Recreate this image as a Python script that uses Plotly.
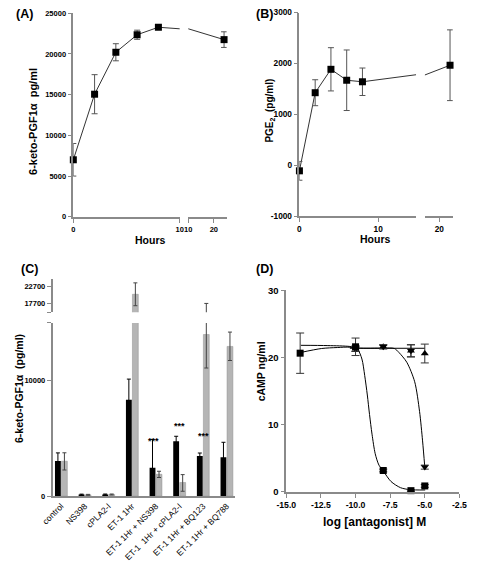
import plotly.graph_objects as go
import numpy as np

# ---------------- DATA ----------------
# Panel A: 6-keto-PGF1a time course
a_hours = [0, 2, 4, 6, 8, 24]
a_val = [7000, 15050, 20200, 22350, 23270, 21750]
a_err = [2000, 2400, 1050, 560, 250, 960]
a_yticks = [0, 5000, 10000, 15000, 20000, 25000]

# Panel B: PGE2 time course
b_hours = [0, 2, 4, 6, 8, 24]
b_val = [-110, 1425, 1885, 1670, 1640, 1965]
b_err = [185, 255, 425, 595, 270, 695]
b_yticks = [-1000, 0, 1000, 2000, 3000]

# Panel C: bars
c_cats = ["control", "NS398", "cPLA2-I", "ET-1 1Hr", "ET-1 1Hr + NS398",
          "ET-1  1Hr + cPLA2-I", "ET-1 1Hr + BQ123", "ET-1 1Hr + BQ788"]
c_black = [3050, 140, 150, 8350, 2460, 4760, 3480, 3370]
c_black_err = [700, 40, 40, 1790, 2460, 430, 260, 1300]
c_gray = [3030, 120, 150, 20440, 1900, 1190, 14000, 12970]
c_gray_err_plus = [730, 40, 40, 3300, 260, 680, 3800, 1240]
c_gray_err_minus = [760, 40, 40, 3300, 280, 760, 2900, 1220]
c_star_cats = ["ET-1 1Hr + NS398", "ET-1  1Hr + cPLA2-I", "ET-1 1Hr + BQ123"]
c_star_y = [4800, 6100, 5200]
c_lower_ticks = [0, 10000, 15000]
c_lower_ticktext = ["0", "10000", ""]
c_upper_ticks = [15270, 17700, 22700]
c_upper_ticktext = ["", "17700", "22700"]

# Panel D: cAMP vs log[antagonist]
d_sq_x = [-14, -10, -8, -6, -5]
d_sq_y = [20.65, 21.6, 3.2, 0.2, 0.9]
d_sq_err = [3.0, 1.3, 0.2, 0.1, 0.2]
d_up_x = [-10, -8, -6, -5]
d_up_y = [21.3, 21.6, 21.0, 20.6]
d_up_err = [0.4, 0.3, 0.9, 1.4]
d_dn_x = [-10, -8, -6, -5]
d_dn_y = [21.3, 21.6, 21.0, 3.7]
d_dn_err = [0.4, 0.3, 0.9, 0.3]
# fitted curves
d_sq_curve_x = [-13.95, -12.47, -11.32, -10.41, -9.84, -9.54, -9.34, -9.15, -8.99,
                -8.81, -8.58, -8.31, -8.01, -7.44, -6.75, -6.07, -4.97]
d_sq_curve_y = [20.76, 21.34, 21.49, 21.53, 21.14, 19.78, 17.35, 14.43, 11.52,
                8.6, 5.69, 3.99, 3.16, 1.56, 0.64, 0.35, 0.3]
d_dn_curve_x = [-13.95, -12.0, -10.41, -9.8, -8.0, -7.2, -6.87, -6.3, -5.73,
                -5.38, -5.16, -5.0]
d_dn_curve_y = [21.82, 21.78, 21.65, 21.42, 21.4, 21.35, 20.76, 19.3, 16.4,
                12.0, 7.6, 3.7]
d_up_curve_x = [-10.41, -5.0]
d_up_curve_y = [21.38, 21.38]
d_xticks = [-15.0, -12.5, -10.0, -7.5, -5.0, -2.5]
d_yticks = [0, 10, 20, 30]

# ---------------- LAYOUT HELPERS ----------------
W, H = 477, 562
def dx(a, b):
    return [a / W, b / W]
def dy(top, bottom):
    return [1 - bottom / H, 1 - top / H]
def px(xp):
    return xp / W
def py(yp):
    return 1 - yp / H

FONT = "Arial, Liberation Sans, sans-serif"
AXC = "#8a8a8a"
LINEC = "#333333"
ERRC = "#555555"

fig = go.Figure()

# ---------------- PANEL A ----------------
ax_ = np.array(a_hours); av = np.array(a_val); ae = np.array(a_err)
for xa, mask in (("x", ax_ <= 10), ("x2", ax_ >= 10)):
    fig.add_trace(go.Scatter(x=a_hours, y=a_val, xaxis=xa, yaxis="y", mode="lines",
                             line=dict(color=LINEC, width=1), showlegend=False))
    fig.add_trace(go.Scatter(x=ax_[mask], y=av[mask], xaxis=xa, yaxis="y", mode="markers",
                             marker=dict(symbol="square", size=7, color="black"),
                             error_y=dict(type="data", array=ae[mask], color=ERRC,
                                          thickness=1, width=3),
                             cliponaxis=False, showlegend=False))

# ---------------- PANEL B ----------------
bx = np.array(b_hours); bv = np.array(b_val); be = np.array(b_err)
for xa, mask in (("x3", bx <= 14.8), ("x4", bx >= 14.6)):
    fig.add_trace(go.Scatter(x=b_hours, y=b_val, xaxis=xa, yaxis="y2", mode="lines",
                             line=dict(color=LINEC, width=1), showlegend=False))
    fig.add_trace(go.Scatter(x=bx[mask], y=bv[mask], xaxis=xa, yaxis="y2", mode="markers",
                             marker=dict(symbol="square", size=7, color="black"),
                             error_y=dict(type="data", array=be[mask], color=ERRC,
                                          thickness=1, width=3),
                             cliponaxis=False, showlegend=False))

# ---------------- PANEL C ----------------
for xa, ya in (("x5", "y3"), ("x6", "y4")):
    fig.add_trace(go.Bar(x=c_cats, y=c_black, xaxis=xa, yaxis=ya,
                         marker=dict(color="black", line=dict(width=0)),
                         error_y=dict(type="data", array=c_black_err, color="black",
                                      thickness=1, width=2),
                         showlegend=False))
    fig.add_trace(go.Bar(x=c_cats, y=c_gray, xaxis=xa, yaxis=ya,
                         marker=dict(color="#b5b5b5", line=dict(color="#8f8f8f", width=0.5)),
                         error_y=dict(type="data", symmetric=False, array=c_gray_err_plus,
                                      arrayminus=c_gray_err_minus, color="#444444",
                                      thickness=1, width=2),
                         showlegend=False))

# ---------------- PANEL D ----------------
for cx, cy in ((d_sq_curve_x, d_sq_curve_y), (d_dn_curve_x, d_dn_curve_y),
               (d_up_curve_x, d_up_curve_y)):
    fig.add_trace(go.Scatter(x=cx, y=cy, xaxis="x7", yaxis="y5", mode="lines",
                             line=dict(color="black", width=1, shape="spline", smoothing=0.8),
                             showlegend=False))
for xs, ys, es, sym in ((d_up_x, d_up_y, d_up_err, "triangle-up"),
                        (d_dn_x, d_dn_y, d_dn_err, "triangle-down"),
                        (d_sq_x, d_sq_y, d_sq_err, "square")):
    fig.add_trace(go.Scatter(x=xs, y=ys, xaxis="x7", yaxis="y5", mode="markers",
                             marker=dict(symbol=sym, size=7, color="black"),
                             error_y=dict(type="data", array=es, color="#333333",
                                          thickness=1, width=4),
                             cliponaxis=False, showlegend=False))

# ---------------- AXES ----------------
def axstyle(size=7.5, **kw):
    d = dict(showline=True, linecolor=AXC, linewidth=1.5, ticks="outside",
             tickcolor=AXC, ticklen=4, tickwidth=1.2, showgrid=False, zeroline=False,
             tickfont=dict(family=FONT, size=size, color="black", weight="bold"),
             tickmode="array")
    d.update(kw)
    return d

def labels(vals, fmt="%d"):
    return [fmt % v for v in vals]

fig.update_layout(
    xaxis=axstyle(domain=dx(64, 175), range=[0, 10], anchor="y", tickvals=[0, 10],
                  ticktext=["0", "10"]),
    xaxis2=axstyle(domain=dx(184, 224), range=[10, 25], anchor="y", tickvals=[10, 20],
                   ticktext=["10", "20"]),
    yaxis=axstyle(domain=dy(7.3, 215), range=[0, 25000], anchor="x",
                  tickvals=a_yticks, ticktext=labels(a_yticks)),
    xaxis3=axstyle(8.3, domain=dx(300, 421.7), range=[0, 14.8], anchor="y2", tickvals=[0, 10],
                   ticktext=["0", "10"]),
    xaxis4=axstyle(8.3, domain=dx(431, 460), range=[14.6, 25], anchor="y2", tickvals=[20],
                   ticktext=["20"]),
    yaxis2=axstyle(8.3, domain=dy(6.7, 214.3), range=[-1000, 3000], anchor="x3",
                   tickvals=b_yticks, ticktext=labels(b_yticks)),
    xaxis5=axstyle(domain=dx(42.3, 233), range=[-0.365, 7.36], anchor="y3", ticks="",
                   type="category", tickangle=-45,
                   tickfont=dict(family=FONT, size=8.5, color="black")),
    yaxis3=axstyle(domain=dy(323.3, 500), range=[0, 15000], anchor="x5",
                   tickvals=c_lower_ticks, ticktext=c_lower_ticktext),
    xaxis6=dict(domain=dx(42.3, 233), range=[-0.365, 7.36], anchor="y4", type="category",
                visible=False),
    yaxis4=axstyle(domain=dy(278.3, 312.3), range=[15270, 24900], anchor="x6",
                   tickvals=c_upper_ticks, ticktext=c_upper_ticktext),
    xaxis7=axstyle(8.7, domain=dx(286.3, 467), range=[-15, -2.5], anchor="y5",
                   tickvals=d_xticks, ticktext=labels(d_xticks, "%.1f")),
    yaxis5=axstyle(9.5, domain=dy(290, 495.7), range=[0, 30], anchor="x7",
                   tickvals=d_yticks, ticktext=labels(d_yticks)),
    barmode="group", bargap=0.45, bargroupgap=0.1,
    width=W, height=H, margin=dict(l=0, r=0, t=0, b=0),
    plot_bgcolor="white", paper_bgcolor="white",
    font=dict(family=FONT, color="black"),
)

# ---------------- TEXT ----------------
def note(text, x, y, size, angle=0, xanchor="center", **kw):
    fig.add_annotation(text=text, x=px(x), y=py(y), xref="paper", yref="paper",
                       showarrow=False, textangle=angle, xanchor=xanchor, yanchor="middle",
                       font=dict(family=FONT, size=size, color="black"), **kw)

note("<b>(A)</b>", 2, 8, 12.5, xanchor="left")
note("<b>(B)</b>", 252.5, 8, 12.5, xanchor="left")
note("<b>(C)</b>", 7, 268, 12.5, xanchor="left")
note("<b>(D)</b>", 253, 268, 12.5, xanchor="left")
note("<b>6-keto-PGF1α  pg/ml</b>", 21.7, 117.5, 11, angle=-90)
note("<b>Hours</b>", 144, 239, 10.5)
note("<b>PGE<sub>2</sub>  (pg/ml)</b>", 269.3, 106.7, 10, angle=-90)
note("<b>Hours</b>", 379.3, 237.7, 10.5)
note("<b>6-keto-PGF1α  (pg/ml)</b>", 8, 390, 10.5, angle=-90)
note("<b>cAMP ng/ml</b>", 260, 372.5, 10.5, angle=-90)
note("<b>log [antagonist] M</b>", 378.3, 526.7, 12)

for cat, yv, shift in zip(c_star_cats, c_star_y, [-2, 0, 0]):
    fig.add_annotation(text="<b>***</b>", x=cat, y=yv, xref="x5", yref="y3",
                       showarrow=False, xshift=shift, yanchor="middle",
                       font=dict(family=FONT, size=9, color="black"))

# remove the browser's default 8px body margin so the figure fills the window
fig.write_html("out.html", config={"displayModeBar": False},
               post_script="document.body.style.margin='0';document.body.style.overflow='hidden';")
